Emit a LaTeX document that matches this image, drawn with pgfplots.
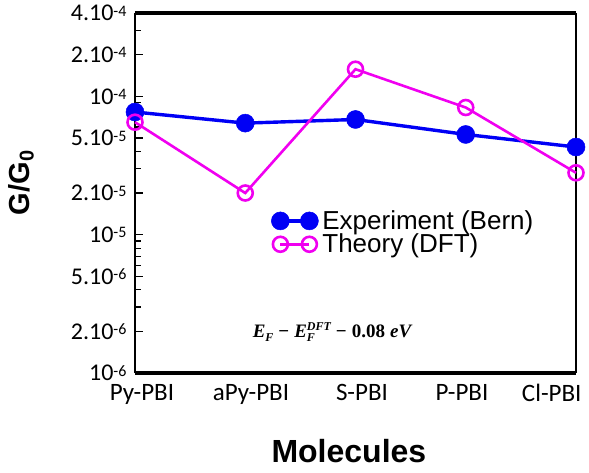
\documentclass[border=0pt]{standalone}
\usepackage{pgfplots}
\pgfplotsset{compat=1.18}
\usepackage{fontspec}
\setmainfont{Carlito}
\newfontfamily\arialfam{Liberation Sans}
\newfontfamily\annfam{Liberation Serif}
\definecolor{expblue}{RGB}{0,0,245}
\definecolor{thmag}{RGB}{240,0,240}
\newcommand{\supx}[1]{\raisebox{4.5pt}{\fontsize{16}{16}\selectfont #1}}
\newcommand{\fxtick}{\fontsize{25}{28}\selectfont}
\newcommand{\fytick}{\fontsize{24}{27}\selectfont}
\newcommand{\fxlab}{\arialfam\bfseries\fontsize{32}{36}\selectfont}
\newcommand{\fylab}{\arialfam\bfseries\fontsize{29}{33}\selectfont}
\newcommand{\fleg}{\arialfam\fontsize{26}{28}\selectfont}
\newcommand{\fann}{\fontsize{19}{22}\selectfont}
\newcommand{\annsub}[1]{\raisebox{-3.5pt}{\fontsize{12}{12}\selectfont #1}}
\newcommand{\annsup}[1]{\raisebox{7pt}{\fontsize{12}{12}\selectfont #1}}
\newcommand{\annot}{\annfam\bfseries\itshape E\annsub{F}\hspace{5pt}{\upshape −}\hspace{5pt}E\rlap{\annsub{F}}\annsup{DFT}\hspace{5pt}{\upshape −}\hspace{5pt}{\upshape 0.08}\hspace{5pt}eV}
\pgfplotsset{twomark legend/.style={legend image code/.code={%
  \draw[##1] plot coordinates {(0pt,0pt) (29pt,0pt)};}}}
\begin{document}
\begin{tikzpicture}
\useasboundingbox (-135pt,-99pt) rectangle (454pt,373pt);
\begin{axis}[
  at={(0pt,0pt)}, anchor=south west,
  scale only axis,
  width=441pt, height=360pt,
  ymode=log,
  ymin=1e-6, ymax=4e-4,
  xmin=0, xmax=4,
  xtick={0.063,1.052,2.059,2.966,3.78},
  xticklabels={Py-PBI, aPy-PBI, S-PBI, P-PBI, Cl-PBI},
  x tick label style={font=\fxtick, yshift=-8pt},
  xtick style={draw=none},
  ytick={1e-6,2e-6,5e-6,1e-5,2e-5,5e-5,1e-4,2e-4,4e-4},
  yticklabels={10\supx{-6}, 2.10\supx{-6}, 5.10\supx{-6}, 10\supx{-5}, 2.10\supx{-5}, 5.10\supx{-5}, 10\supx{-4}, 2.10\supx{-4}, 4.10\supx{-4}},
  minor ytick={3e-6,4e-6,6e-6,7e-6,8e-6,9e-6,3e-5,4e-5,6e-5,7e-5,8e-5,9e-5,3e-4},
  y tick label style={font=\fytick, xshift=-5pt},
  ytick pos=left,
  tick align=inside,
  major tick length=8pt,
  minor tick length=6pt,
  ytick style={black, line width=1.1pt},
  separate axis lines,
  x axis line style={line width=3.2pt},
  y axis line style={line width=1.2pt},
  xlabel={Molecules},
  ylabel={G/G\raisebox{-0.3ex}{\fontsize{20}{20}\selectfont 0}},
  xlabel style={font=\fxlab, at={(axis description cs:0.485,-0.217)}, anchor=center},
  ylabel style={font=\fylab, at={(axis description cs:-0.2585,0.528)}, anchor=center},
  legend style={draw=none, fill=none, at={(0.302,0.461)}, anchor=north west, font=\fleg,
    nodes={inner ysep=1.5pt, inner xsep=4pt}},
  legend cell align=left,
  clip=false,
]
\addplot[expblue, line width=3.4pt, mark=*, mark size=9pt, mark options={solid, fill=expblue, line width=0.5pt}, twomark legend]
  coordinates {(0,7.7e-5) (1,6.4e-5) (2,6.8e-5) (3,5.3e-5) (4,4.3e-5)};
\addlegendentry{Experiment (Bern)}
\addplot[thmag, line width=2.6pt, mark=o, mark size=7.5pt, mark options={solid, line width=2.6pt}, twomark legend]
  coordinates {(0,6.5e-5) (1,2.0e-5) (2,1.57e-4) (3,8.3e-5) (4,2.8e-5)};
\addlegendentry{Theory (DFT)}
\end{axis}
\node[font=\fann] at (197pt,41pt) {\annot};
\end{tikzpicture}
\end{document}
